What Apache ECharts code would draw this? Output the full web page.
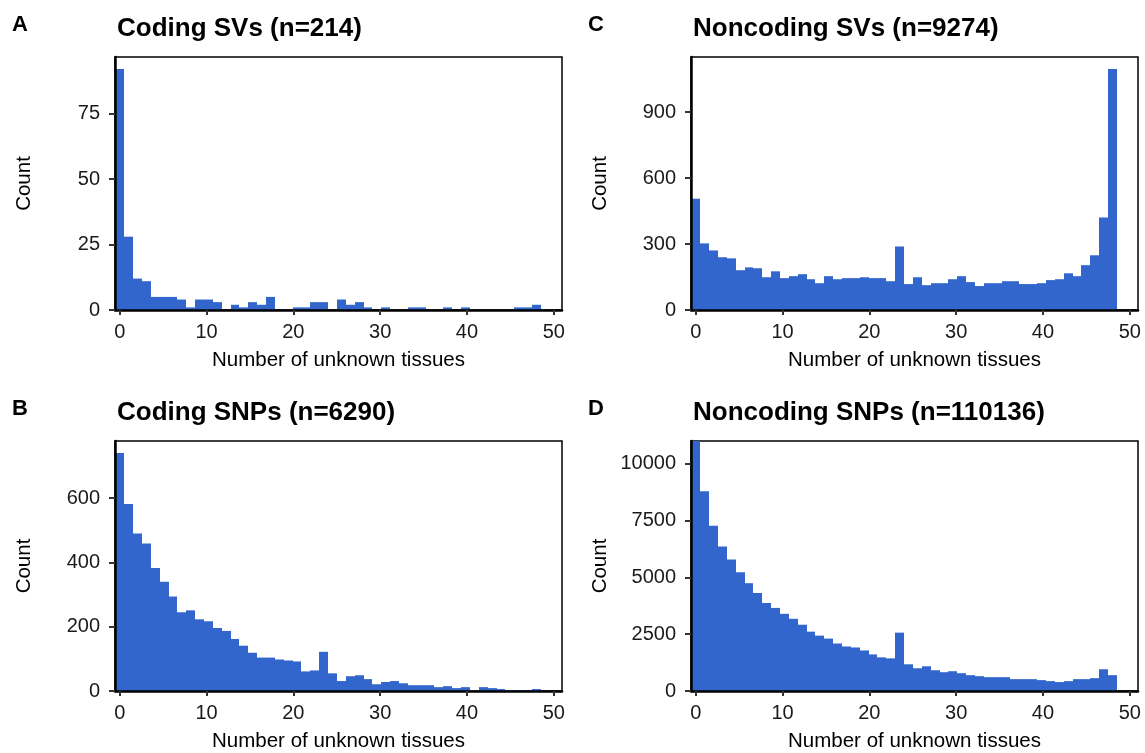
<!DOCTYPE html>
<html>
<head>
<meta charset="utf-8">
<script src="https://cdn.jsdelivr.net/npm/echarts@6/dist/echarts.min.js"></script>
<style>
  html, body { margin: 0; padding: 0; background: #ffffff; }
  #chart { width: 1145px; height: 753px; }
</style>
</head>
<body>
<div id="chart"></div>
<script>
// ---- Data (counts per bin; 48 bins spanning 0..48 unknown tissues) ----
const codingSVs = [92, 28, 12, 11, 5, 5, 5, 4, 1, 4, 4, 3, 0, 2, 1, 3, 2, 5, 0, 0, 1, 1, 3, 3,
                   0, 4, 2, 3, 1, 0, 1, 0, 0, 1, 1, 0, 0, 1, 0, 1, 0, 0, 0, 0, 0, 1, 1, 2];
const noncodingSVs = [506, 303, 271, 240, 235, 181, 194, 190, 149, 176, 145, 154, 163, 140, 122, 154,
                      140, 145, 145, 149, 145, 145, 131, 289, 118, 149, 113, 122, 122, 140, 154, 127,
                      109, 122, 122, 131, 131, 118, 118, 122, 136, 140, 167, 154, 204, 249, 421, 1096];
const codingSNPs = [741, 582, 490, 459, 383, 340, 294, 245, 251, 223, 217, 196, 187, 162, 141, 119,
                    104, 104, 98, 95, 92, 61, 64, 122, 55, 31, 46, 49, 37, 21, 28, 31,
                    24, 18, 18, 18, 12, 15, 9, 12, 2, 12, 9, 6, 3, 3, 3, 6];
const noncodingSNPs = [12050, 8792, 7268, 6354, 5788, 5223, 4744, 4309, 3873, 3656, 3395, 3177, 2916, 2611, 2437, 2307,
                       2089, 1959, 1915, 1784, 1610, 1480, 1436, 2568, 1175, 1001, 1088, 914, 827, 870, 783, 696,
                       653, 609, 609, 609, 522, 522, 522, 479, 435, 392, 435, 522, 522, 566, 957, 696];

const panelLetters = ['A', 'B', 'C', 'D'];
const panelTitles = ['Coding SVs (n=214)', 'Coding SNPs (n=6290)', 'Noncoding SVs (n=9274)', 'Noncoding SNPs (n=110136)'];
const xTicks = [0, 10, 20, 30, 40, 50];
const yTicksA = [0, 25, 50, 75];
const yTicksB = [0, 200, 400, 600];
const yTicksC = [0, 300, 600, 900];
const yTicksD = [0, 2500, 5000, 7500, 10000];
const xAxisTitle = 'Number of unknown tissues';
const yAxisTitle = 'Count';

// ---- Chart construction ----
const BIN_RANGE = 48, N_BINS = 48;
const BIN_WIDTH = BIN_RANGE / (N_BINS - 1);
const FONT = '"Liberation Sans", Arial, Helvetica, sans-serif';
const BAR_COLOR = '#3366CC';

const panels = [
  { data: codingSVs,     yTicks: yTicksA, yMax: 96.6,  grid: { left: 115, top: 57,  width: 447, height: 253 } },
  { data: codingSNPs,    yTicks: yTicksB, yMax: 778,   grid: { left: 115, top: 441, width: 447, height: 253 } },
  { data: noncodingSVs,  yTicks: yTicksC, yMax: 1151,  grid: { left: 691, top: 57,  width: 447, height: 253 } },
  { data: noncodingSNPs, yTicks: yTicksD, yMax: 11000, grid: { left: 691, top: 441, width: 447, height: 253 } }
];

const grids = [], xAxes = [], yAxes = [], series = [], titles = [];

panels.forEach((p, k) => {
  grids.push(Object.assign({ show: true, borderColor: '#000', borderWidth: 1.5, backgroundColor: '#fff', z: 0 }, p.grid));
  xAxes.push({
    type: 'value', gridIndex: k, min: -0.55, max: 50.95,
    name: xAxisTitle, nameLocation: 'middle', nameGap: 40,
    nameTextStyle: { fontFamily: FONT, fontSize: 20.5, color: '#000' },
    axisLine: { show: true, onZero: false, lineStyle: { color: '#000', width: 2.5 } },
    axisTick: { show: true, customValues: xTicks, length: 5, lineStyle: { color: '#333', width: 2 } },
    axisLabel: { customValues: xTicks, margin: 12, fontFamily: FONT, fontSize: 20, color: '#1a1a1a',
                 formatter: v => String(v) },
    splitLine: { show: false },
    z: 10
  });
  yAxes.push({
    type: 'value', gridIndex: k, min: 0, max: p.yMax,
    name: yAxisTitle, nameLocation: 'middle', nameGap: 80,
    nameTextStyle: { fontFamily: FONT, fontSize: 20.5, color: '#000' },
    axisLine: { show: true, onZero: false, lineStyle: { color: '#000', width: 2.5 } },
    axisTick: { show: true, customValues: p.yTicks, length: 6, lineStyle: { color: '#333', width: 2 } },
    axisLabel: { customValues: p.yTicks, margin: 15, fontFamily: FONT, fontSize: 20, color: '#1a1a1a',
                 formatter: v => String(v) },
    splitLine: { show: false },
    z: 10
  });
  series.push({
    type: 'custom', xAxisIndex: k, yAxisIndex: k,
    data: p.data.map((v, i) => [i * BIN_WIDTH, v]),
    renderItem: function (params, api) {
      const c = api.value(0), v = api.value(1);
      if (!v) return null;
      const p0 = api.coord([c - BIN_WIDTH / 2, v]);
      const p1 = api.coord([c + BIN_WIDTH / 2, 0]);
      const x0 = Math.round(p0[0]), x1 = Math.round(p1[0]);
      const rect = echarts.graphic.clipRectByRect(
        { x: x0, y: p0[1], width: x1 - x0, height: p1[1] - p0[1] },
        { x: params.coordSys.x, y: params.coordSys.y, width: params.coordSys.width, height: params.coordSys.height }
      );
      if (!rect) return null;
      return { type: 'rect', shape: rect, style: { fill: BAR_COLOR } };
    },
    z: 2,
    silent: true
  });
  const titleLeft = p.grid.left + 2;
  const letterLeft = p.grid.left < 400 ? 12 : 588;
  const rowTop = p.grid.top < 200 ? 0 : 384;
  titles.push({
    text: panelLetters[k], left: letterLeft, top: rowTop + 14, padding: 0,
    textStyle: { fontFamily: FONT, fontSize: 22, fontWeight: 'bold', color: '#000' }
  });
  titles.push({
    text: panelTitles[k], left: titleLeft, top: rowTop + 16, padding: 0,
    textStyle: { fontFamily: FONT, fontSize: 26, fontWeight: 'bold', color: '#000' }
  });
});

const chart = echarts.init(document.getElementById('chart'), null, { renderer: 'canvas' });
chart.setOption({
  backgroundColor: '#ffffff',
  animation: false,
  title: titles,
  grid: grids,
  xAxis: xAxes,
  yAxis: yAxes,
  series: series
});
</script>
</body>
</html>
